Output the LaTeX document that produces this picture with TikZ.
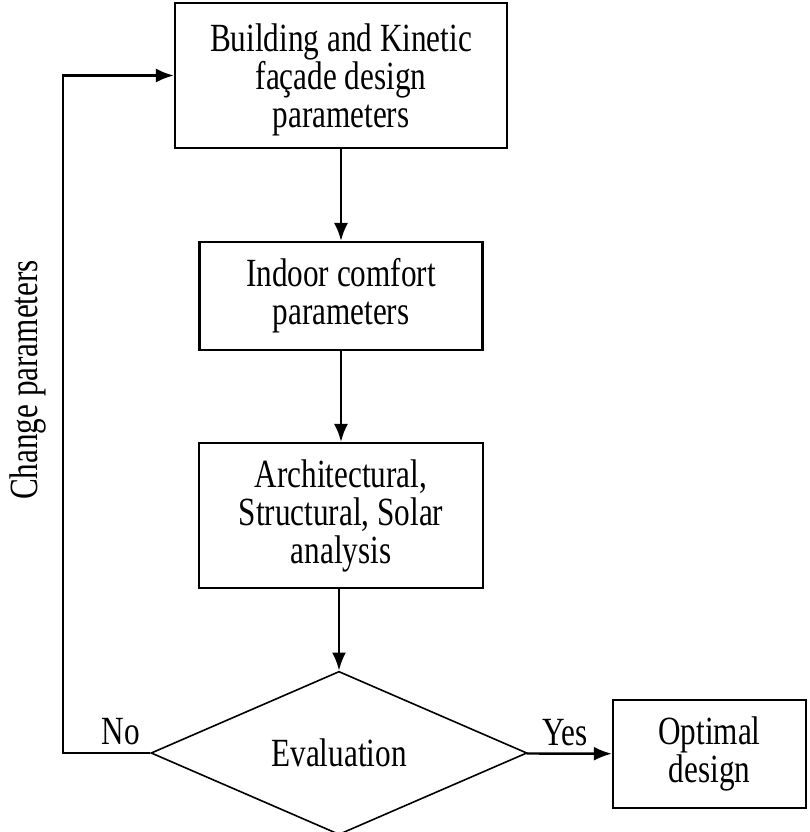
\documentclass[tikz,border=0pt]{standalone}
\usepackage{fontspec}
\setmainfont[FakeStretch=0.78]{Liberation Serif}
\usetikzlibrary{shapes,arrows,arrows.meta}
\usetikzlibrary{shapes.geometric}
\usetikzlibrary{positioning}
\tikzstyle{block} = [draw, line width=2.2pt, align=center, inner sep=0pt]
\tikzstyle{decision} = [diamond, draw, line width=1.6pt, inner sep=0pt, minimum width=376pt, minimum height=153pt]
\tikzstyle{turn} = [coordinate]
\tikzstyle{answer} = [inner sep=7pt]

\begin{document}
\begin{tikzpicture}[auto, x=1pt, y=1pt, >={Latex[length=18pt,width=14pt]}, line width=2.4pt, font=\fontsize{40}{38}\selectfont]
  \useasboundingbox (0,0) rectangle (809,-832);
  \node [block, minimum width=332pt, minimum height=145pt] (design) at (341,-75.5) {\rule{0pt}{36pt}Building and Kinetic\\façade design\\parameters};
  \node [block, minimum width=283pt, minimum height=108pt] (comfort) at (341,-296) {Indoor comfort\\parameters};
  \node [block, minimum width=284pt, minimum height=145pt] (analysis) at (341,-515.5) {Architectural,\\Structural, Solar\\analysis};
  \node [decision] (eval) at (339,-753) {Evaluation};
  \node [block, minimum width=193pt, minimum height=108pt] (optimal) at (709.5,-754) {Optimal\\design};
  \node [turn] (corner) at (63,-753) {};
  \node [turn] (top) at (63,-75.5) {};
  \draw [->] (design) -- (comfort);
  \draw [->] (comfort) -- (analysis);
  \draw [->] (analysis.south -| eval.north) -- (eval);
  \draw [->] (eval) -- node [answer, pos=0.45] {Yes} (optimal);
  \draw [->] (eval.west) -- node [answer, above, pos=0.34] {No} (corner) -- (top) -- (design);
  \node [rotate=90] (change) at (28,-380) {Change parameters};
\end{tikzpicture}
\end{document}
